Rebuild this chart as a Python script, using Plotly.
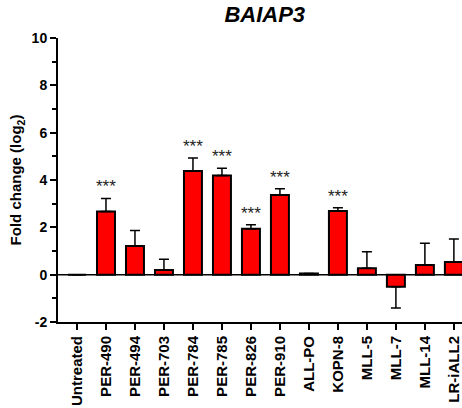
import plotly.graph_objects as go

# Fold change values
cell_lines = ["Untreated", "PER-490", "PER-494", "PER-703", "PER-784", "PER-785",
              "PER-826", "PER-910", "ALL-PO", "KOPN-8", "MLL-5", "MLL-7",
              "MLL-14", "LR-iALL2"]
fold_change = [0.0, 2.67, 1.21, 0.20, 4.38, 4.19, 1.94, 3.37, 0.05, 2.69,
               0.27, -0.51, 0.41, 0.54]
err_up = [0, 0.55, 0.66, 0.45, 0.55, 0.31, 0.17, 0.26, 0, 0.14, 0.70, 0, 0.92, 0.97]
err_down = [0, 0, 0, 0, 0, 0, 0, 0, 0, 0, 0, 0.90, 0, 0]
significant = ["PER-490", "PER-784", "PER-785", "PER-826", "PER-910", "KOPN-8"]
y_ticks = [-2, 0, 2, 4, 6, 8, 10]

FONT = "Arial, Liberation Sans, sans-serif"

fig = go.Figure()
fig.add_trace(go.Bar(
    x=cell_lines, y=fold_change,
    marker=dict(color="#ff0000", line=dict(color="black", width=2)),
    error_y=dict(type="data", symmetric=False, array=err_up, arrayminus=err_down,
                 color="black", thickness=1.5, width=5),
    width=0.62,
))

# zero line
fig.add_hline(y=0, line=dict(color="black", width=1.5), layer="below")

# significance stars
for name in significant:
    i = cell_lines.index(name)
    fig.add_annotation(x=name, y=fold_change[i] + err_up[i], text="***",
                       showarrow=False, yanchor="bottom", yshift=0,
                       font=dict(family=FONT, size=17, color="#222"))

fig.update_layout(
    width=462, height=408,
    margin=dict(l=58, r=0, t=38, b=86),
    paper_bgcolor="white", plot_bgcolor="white",
    showlegend=False,
    font=dict(family=FONT, color="black"),
    title=dict(text="<b><i>BAIAP3</i></b>", x=0.573, xanchor="center",
               y=0.965, yanchor="middle", font=dict(size=22, family=FONT)),
)

fig.update_yaxes(
    range=[-2, 10], showgrid=False, zeroline=False,
    showline=True, linecolor="black", linewidth=2,
    ticks="outside", ticklen=6, tickwidth=2, tickcolor="black",
    minor=dict(dtick=1, ticks="outside", ticklen=4, tickwidth=2, tickcolor="black"),
    tickfont=dict(size=14, family=FONT),
    tickvals=y_ticks, ticktext=[f"<b>{v}</b>" for v in y_ticks],
    title=dict(text="<b>Fold change (log<sub>2</sub>)</b>", font=dict(size=15), standoff=6),
)

fig.update_xaxes(
    range=[-0.655, 13.28], showgrid=False, zeroline=False,
    showline=True, linecolor="black", linewidth=2,
    ticks="outside", ticklen=6, tickwidth=2, tickcolor="black",
    tickangle=-90, tickfont=dict(size=15, family=FONT),
    tickvals=cell_lines, ticktext=[f"<b>{c}</b>" for c in cell_lines],
)

fig.write_html("out.html", config={"displayModeBar": False},
               post_script="document.body.style.margin='0';")
